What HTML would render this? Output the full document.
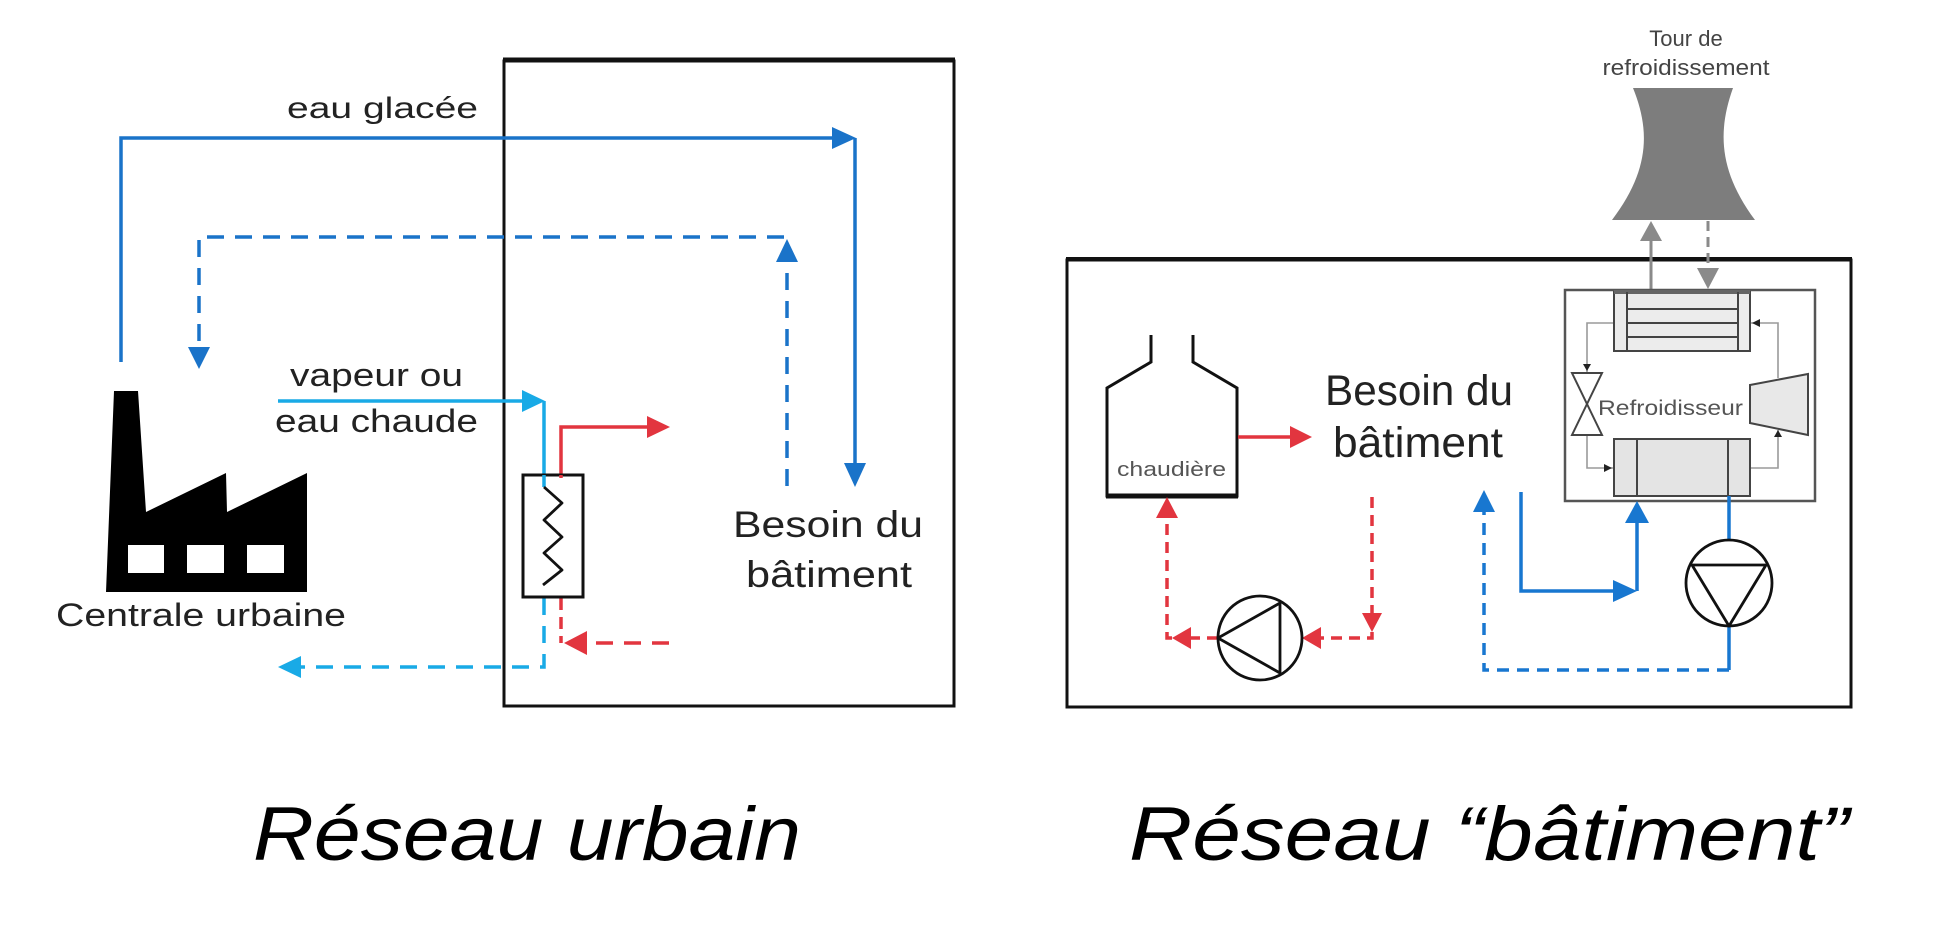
<!DOCTYPE html>
<html>
<head>
<meta charset="utf-8">
<style>
html,body{margin:0;padding:0;background:#fff;}
svg{display:block;}
text{font-family:"Liberation Sans",Arial,sans-serif;}
</style>
</head>
<body>
<svg width="1951" height="943" viewBox="0 0 1951 943" xmlns="http://www.w3.org/2000/svg">
<rect x="0" y="0" width="1951" height="943" fill="#fff"/>

<!-- ================= LEFT: Réseau urbain ================= -->
<!-- building box -->
<rect x="504" y="61" width="450" height="645" fill="none" stroke="#111" stroke-width="3"/>
<line x1="503" y1="60" x2="955" y2="60" stroke="#111" stroke-width="5"/>

<!-- eau glacée solid blue -->
<polyline points="121,362 121,138 834,138" fill="none" stroke="#1a73c9" stroke-width="3.5"/>
<polygon points="832,127 856,138 832,149" fill="#1a73c9"/>
<polyline points="855,138 855,464" fill="none" stroke="#1a73c9" stroke-width="3.5"/>
<polygon points="844,463 866,463 855,487" fill="#1a73c9"/>

<!-- return dashed blue -->
<polyline points="787,486 787,237 199,237 199,350" fill="none" stroke="#1a73c9" stroke-width="3.5" stroke-dasharray="17 11"/>
<polygon points="776,262 798,262 787,239" fill="#1a73c9"/>
<polygon points="188,347 210,347 199,369" fill="#1a73c9"/>

<!-- vapeur cyan -->
<polyline points="278,401 524,401" fill="none" stroke="#19aae6" stroke-width="3.5"/>
<polygon points="522,390 545,401 522,412" fill="#19aae6"/>
<polyline points="544,401 544,488" fill="none" stroke="#19aae6" stroke-width="3.5"/>
<!-- cyan dashed return -->
<polyline points="544,598 544,667 300,667" fill="none" stroke="#19aae6" stroke-width="3.5" stroke-dasharray="17 11"/>
<polygon points="301,656 301,678 278,667" fill="#19aae6"/>

<!-- red out -->
<polyline points="561,476 561,427 649,427" fill="none" stroke="#e2353f" stroke-width="3.5"/>
<polygon points="647,416 670,427 647,438" fill="#e2353f"/>
<!-- red dashed return -->
<polyline points="561,598 561,643" fill="none" stroke="#e2353f" stroke-width="3.5" stroke-dasharray="12 7"/>
<polyline points="669,643 586,643" fill="none" stroke="#e2353f" stroke-width="3.5" stroke-dasharray="17 11"/>
<polygon points="587,631 587,655 564,643" fill="#e2353f"/>

<!-- heat exchanger -->
<rect x="523" y="475" width="60" height="122" fill="#fff" stroke="#111" stroke-width="3"/>
<polyline points="544,475 544,487" fill="none" stroke="#19aae6" stroke-width="3.5"/>
<polyline points="561,475 561,478" fill="none" stroke="#e2353f" stroke-width="3.5"/>
<polyline points="544,487 562,503 544,520 562,537 544,553 562,570 543,585" fill="none" stroke="#111" stroke-width="2.8" stroke-linejoin="round"/>

<!-- factory -->
<polygon points="114,391 138,391 146,512 226,473 227,512 307,473 307,592 106,592" fill="#000"/>
<rect x="128" y="545" width="36" height="28" fill="#fff"/>
<rect x="187" y="545" width="37" height="28" fill="#fff"/>
<rect x="247" y="545" width="37" height="28" fill="#fff"/>

<!-- left labels -->
<text x="287" y="118" font-size="30" fill="#222" textLength="191" lengthAdjust="spacingAndGlyphs">eau glacée</text>
<text x="290" y="386" font-size="32" fill="#222" textLength="173" lengthAdjust="spacingAndGlyphs">vapeur ou</text>
<text x="275" y="432" font-size="32" fill="#222" textLength="203" lengthAdjust="spacingAndGlyphs">eau chaude</text>
<text x="56" y="626" font-size="32" fill="#222" textLength="290" lengthAdjust="spacingAndGlyphs">Centrale urbaine</text>
<text x="733" y="537" font-size="37" fill="#222" textLength="190" lengthAdjust="spacingAndGlyphs">Besoin du</text>
<text x="746" y="587" font-size="37" fill="#222" textLength="166" lengthAdjust="spacingAndGlyphs">bâtiment</text>

<!-- ================= RIGHT: Réseau bâtiment ================= -->
<!-- cooling tower -->
<path d="M1633,88 L1733,88 C1718,130 1718,170 1755,220 L1612,220 C1650,170 1650,130 1633,88 Z" fill="#7d7d7d"/>
<text x="1686" y="46" font-size="22" fill="#444" text-anchor="middle">Tour de</text>
<text x="1686" y="75" font-size="22" fill="#444" text-anchor="middle" textLength="167" lengthAdjust="spacingAndGlyphs">refroidissement</text>

<!-- big box -->
<rect x="1067" y="260" width="784" height="447" fill="none" stroke="#111" stroke-width="3"/>
<line x1="1066" y1="259" x2="1852" y2="259" stroke="#111" stroke-width="4"/>

<!-- gray arrows tower -->
<line x1="1651" y1="290" x2="1651" y2="238" stroke="#8a8a8a" stroke-width="3"/>
<polygon points="1640,241 1662,241 1651,221" fill="#8a8a8a"/>
<line x1="1708" y1="221" x2="1708" y2="270" stroke="#8a8a8a" stroke-width="3" stroke-dasharray="10 6"/>
<polygon points="1697,268 1719,268 1708,289" fill="#8a8a8a"/>

<!-- refroidisseur box -->
<rect x="1565" y="290" width="250" height="211" fill="none" stroke="#555" stroke-width="2.5"/>

<!-- thin refrigerant loop -->
<g fill="none" stroke="#9a9a9a" stroke-width="1.6">
<polyline points="1614,323 1587,323 1587,373"/>
<polyline points="1587,435 1587,468 1614,468"/>
<polyline points="1750,468 1778,468 1778,430"/>
<polyline points="1778,378 1778,323 1750,323"/>
</g>
<g fill="#222">
<polygon points="1583,364 1591,364 1587,371"/>
<polygon points="1604,464 1604,472 1612,468"/>
<polygon points="1774,437 1782,437 1778,430"/>
<polygon points="1760,319 1760,327 1752,323"/>
</g>

<!-- condenser -->
<rect x="1614" y="292" width="136" height="59" fill="#ececec" stroke="#444" stroke-width="2"/>
<line x1="1614" y1="292" x2="1750" y2="292" stroke="#666" stroke-width="4"/>
<g stroke="#444" stroke-width="2">
<line x1="1627" y1="292" x2="1627" y2="351"/>
<line x1="1738" y1="292" x2="1738" y2="351"/>
<line x1="1627" y1="309" x2="1738" y2="309"/>
<line x1="1627" y1="323" x2="1738" y2="323"/>
<line x1="1627" y1="337" x2="1738" y2="337"/>
</g>

<!-- evaporator -->
<rect x="1614" y="439" width="136" height="57" fill="#e4e4e4" stroke="#444" stroke-width="2"/>
<g stroke="#444" stroke-width="2">
<line x1="1637" y1="439" x2="1637" y2="496"/>
<line x1="1728" y1="439" x2="1728" y2="496"/>
</g>

<!-- valve -->
<polygon points="1572,373 1602,373 1587,404" fill="#fff" stroke="#444" stroke-width="2"/>
<polygon points="1572,435 1602,435 1587,404" fill="#fff" stroke="#444" stroke-width="2"/>

<!-- compressor -->
<polygon points="1750,385 1808,374 1808,435 1750,423" fill="#e8e8e8" stroke="#444" stroke-width="2"/>

<text x="1598" y="415" font-size="21" fill="#555" textLength="145" lengthAdjust="spacingAndGlyphs">Refroidisseur</text>

<!-- chaudière -->
<path d="M1151,335 L1151,362 L1107,388 L1107,496 L1237,496 L1237,388 L1193,362 L1193,335" fill="none" stroke="#111" stroke-width="3"/>
<line x1="1106" y1="496" x2="1238" y2="496" stroke="#111" stroke-width="5"/>
<text x="1117" y="476" font-size="20" fill="#555" textLength="109" lengthAdjust="spacingAndGlyphs">chaudière</text>

<!-- red supply -->
<line x1="1238" y1="437" x2="1292" y2="437" stroke="#e2353f" stroke-width="3.5"/>
<polygon points="1290,426 1312,437 1290,448" fill="#e2353f"/>

<!-- Besoin du bâtiment right -->
<text x="1325" y="405" font-size="43" fill="#222" textLength="188" lengthAdjust="spacingAndGlyphs">Besoin du</text>
<text x="1333" y="457" font-size="43" fill="#222" textLength="170" lengthAdjust="spacingAndGlyphs">bâtiment</text>

<!-- red dashed return -->
<polyline points="1372,497 1372,614" fill="none" stroke="#e2353f" stroke-width="3.5" stroke-dasharray="11 7"/>
<polygon points="1362,613 1382,613 1372,632" fill="#e2353f"/>
<polyline points="1372,632 1372,638 1320,638" fill="none" stroke="#e2353f" stroke-width="3.5" stroke-dasharray="11 7"/>
<polygon points="1321,627 1321,649 1302,638" fill="#e2353f"/>
<line x1="1218" y1="638" x2="1190" y2="638" stroke="#e2353f" stroke-width="3.5" stroke-dasharray="11 7"/>
<polygon points="1191,627 1191,649 1172,638" fill="#e2353f"/>
<polyline points="1172,638 1167,638 1167,516" fill="none" stroke="#e2353f" stroke-width="3.5" stroke-dasharray="11 7"/>
<polygon points="1156,518 1178,518 1167,497" fill="#e2353f"/>

<!-- pump 1 -->
<circle cx="1260" cy="638" r="42" fill="#fff" stroke="#111" stroke-width="2.8"/>
<polygon points="1280,603 1280,673 1218,638" fill="none" stroke="#111" stroke-width="2.8" stroke-linejoin="round"/>

<!-- blue loop right -->
<polyline points="1521,492 1521,591 1615,591" fill="none" stroke="#1877d0" stroke-width="3.5"/>
<polygon points="1613,580 1637,591 1613,602" fill="#1877d0"/>
<polyline points="1637,591 1637,521" fill="none" stroke="#1877d0" stroke-width="3.5"/>
<polygon points="1625,523 1649,523 1637,501" fill="#1877d0"/>
<line x1="1729" y1="496" x2="1729" y2="541" stroke="#1877d0" stroke-width="3.5"/>
<line x1="1729" y1="625" x2="1729" y2="670" stroke="#1877d0" stroke-width="3.5"/>
<polyline points="1729,670 1484,670 1484,512" fill="none" stroke="#1877d0" stroke-width="3.5" stroke-dasharray="12 8"/>
<polygon points="1473,512 1495,512 1484,490" fill="#1877d0"/>

<!-- pump 2 -->
<circle cx="1729" cy="583" r="43" fill="#fff" stroke="#111" stroke-width="2.8"/>
<polygon points="1692,565 1766,565 1729,626" fill="none" stroke="#111" stroke-width="2.8" stroke-linejoin="round"/>

<!-- captions -->
<text x="253" y="860" font-size="76" font-style="italic" fill="#000" textLength="548" lengthAdjust="spacingAndGlyphs">Réseau urbain</text>
<text x="1129" y="860" font-size="76" font-style="italic" fill="#000" textLength="720" lengthAdjust="spacingAndGlyphs">Réseau “bâtiment”</text>
</svg>
</body>
</html>
